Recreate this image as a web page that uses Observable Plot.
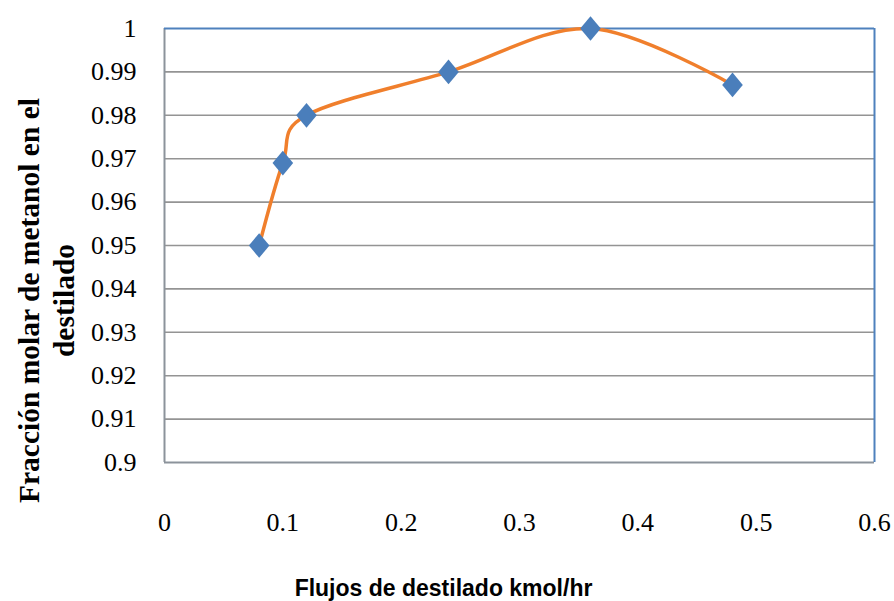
<!DOCTYPE html>
<html>
<head>
<meta charset="utf-8">
<script src="https://cdn.jsdelivr.net/npm/d3@7"></script>
<script src="https://cdn.jsdelivr.net/npm/@observablehq/plot@0.6"></script>
<style>
  html, body { margin: 0; padding: 0; background: #ffffff; }
  #chart { width: 894px; height: 601px; }
</style>
</head>
<body>
<div id="chart"></div>
<script>
const flujos = [0.08, 0.10, 0.12, 0.24, 0.36, 0.48];
const fraccion = [0.950, 0.969, 0.980, 0.990, 1.000, 0.987];
const xTicks = [0, 0.1, 0.2, 0.3, 0.4, 0.5, 0.6];
const yTicks = [0.9, 0.91, 0.92, 0.93, 0.94, 0.95, 0.96, 0.97, 0.98, 0.99, 1];
const xLabel = "Flujos de destilado kmol/hr";
const yLabel = "Fracción molar de metanol en el\ndestilado";

const data = flujos.map((x, i) => ({x, y: fraccion[i]}));

const diamond = {
  draw(context, size) {
    const r = Math.sqrt(size / Math.PI);
    const w = r, h = r * 1.2;
    context.moveTo(0, -h);
    context.lineTo(w, 0);
    context.lineTo(0, h);
    context.lineTo(-w, 0);
    context.closePath();
  }
};

const serif = "Liberation Serif";
const sans = "Liberation Sans";

const chart = Plot.plot({
  width: 894,
  height: 601,
  marginLeft: 164,
  marginRight: 20,
  marginTop: 28,
  marginBottom: 139,
  x: {domain: [0, 0.6], axis: null},
  y: {domain: [0.9, 1], axis: null},
  style: {background: "#ffffff", color: "#000000", fontFamily: serif},
  marks: [
    Plot.ruleY(yTicks.filter(d => d > 0.9 && d < 1), {stroke: "#949494", strokeWidth: 1.6}),
    Plot.ruleY([0.9], {stroke: "#8C939B", strokeWidth: 2}),
    Plot.ruleX([0], {stroke: "#8C939B", strokeWidth: 2}),
    Plot.ruleY([1], {stroke: "#4F81BD", strokeWidth: 2}),
    Plot.ruleX([0.6], {stroke: "#4F81BD", strokeWidth: 2}),
    Plot.line(data, {x: "x", y: "y", curve: "cardinal", stroke: "#F07F2C", strokeWidth: 3.5}),
    Plot.dot(data, {x: "x", y: "y", symbol: diamond, r: 10.3, fill: "#4A7EBB", stroke: "none"}),
    Plot.text(yTicks, {y: d => d, text: d => String(d), frameAnchor: "left", dx: -28, textAnchor: "end", lineAnchor: "middle", fontFamily: serif, fontSize: 26, fill: "#000000"}),
    Plot.text(xTicks, {x: d => d, text: d => String(d), frameAnchor: "bottom", dy: 60, textAnchor: "middle", lineAnchor: "middle", fontFamily: serif, fontSize: 26, fill: "#000000"}),
    Plot.text([xLabel], {text: d => d, frameAnchor: "bottom", dx: -76, dy: 126, fontFamily: sans, fontWeight: "bold", fontSize: 23, textAnchor: "middle", lineAnchor: "middle", fill: "#000000"}),
    Plot.text([yLabel], {text: d => d, frameAnchor: "left", dx: -119, dy: 55, rotate: -90, fontFamily: serif, fontWeight: "bold", fontSize: 29.5, lineHeight: 1.16, textAnchor: "middle", lineAnchor: "middle", fill: "#000000"})
  ]
});
document.getElementById("chart").appendChild(chart);
</script>
</body>
</html>
